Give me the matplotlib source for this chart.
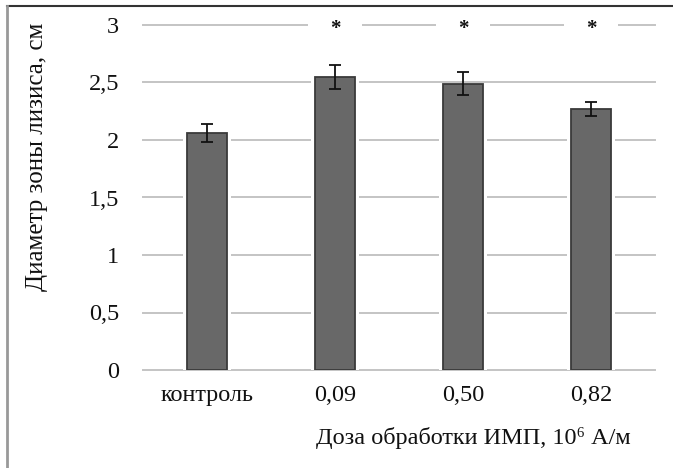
import matplotlib
matplotlib.use("Agg")
import matplotlib.pyplot as plt
from matplotlib.lines import Line2D

# Chart data
categories = ["контроль", "0,09", "0,50", "0,82"]
means = [2.06, 2.55, 2.49, 2.27]
errors = [0.075, 0.105, 0.10, 0.06]
significant = [False, True, True, True]
y_ticks = [0, 0.5, 1, 1.5, 2, 2.5, 3]
y_tick_labels = ["0", "0,5", "1", "1,5", "2", "2,5", "3"]

plt.rcParams["font.family"] = ["Liberation Serif", "DejaVu Serif"]

# Figure and axes placement (pixel based, 673x468)
fig = plt.figure(figsize=(6.73, 4.68), dpi=100)
ax = fig.add_axes([143 / 673, 98 / 468, 512 / 673, 345 / 468])

x = list(range(len(categories)))
# White halo behind bars so the grid stops short of them
ax.bar(x, means, width=0.38, color="white", zorder=2)
ax.bar(x, means, width=0.31, color="#686868", edgecolor="#3a3a3a", linewidth=1.3, zorder=3)
ax.errorbar(x, means, yerr=errors, fmt="none", ecolor="#111111", elinewidth=1.3, capsize=4, capthick=1.3, zorder=4)

# Significance marks sitting on the top grid line
for (i, sig) in enumerate(significant):
	if sig:
		ax.text(i, y_ticks[-1] - 0.035, "*", ha="center", va="center", fontsize=15, fontweight="bold", color="#111111",
			zorder=5, bbox=dict(facecolor="white", edgecolor="none", boxstyle="square,pad=1.05"))

# Axes styling
ax.set_xlim(-0.5, len(categories) - 0.5)
ax.set_ylim(0, 3)
ax.set_yticks(y_ticks, y_tick_labels)
ax.set_xticks(x, categories)
ax.tick_params(axis="both", length=0, labelsize=17.5, labelcolor="#111111")
ax.tick_params(axis="y", pad=17)
ax.tick_params(axis="x", pad=11)
ax.grid(axis="y", color="#c4c4c4", linewidth=1.4, clip_on=False, zorder=1)
ax.set_axisbelow(True)
for s in ax.spines.values():
	s.set_visible(False)

ax.set_ylabel("Диаметр зоны лизиса, см", fontsize=18, color="#111111")
ax.yaxis.set_label_coords(-0.185, 0.617)
ax.set_xlabel("Доза обработки ИМП, 10⁶ А/м", fontsize=17.5, color="#111111")
ax.xaxis.set_label_coords((473 - 143) / 512, -0.165)

# Frame around the figure (top and left edges only are visible)
fig.add_artist(Line2D([7 / 673, 1], [1 - 6 / 468, 1 - 6 / 468], transform=fig.transFigure, color="#333333", linewidth=1.5))
fig.add_artist(Line2D([7 / 673, 7 / 673], [0, 1 - 6 / 468], transform=fig.transFigure, color="#999999", linewidth=2))

plt.savefig("out.png", dpi=100)
